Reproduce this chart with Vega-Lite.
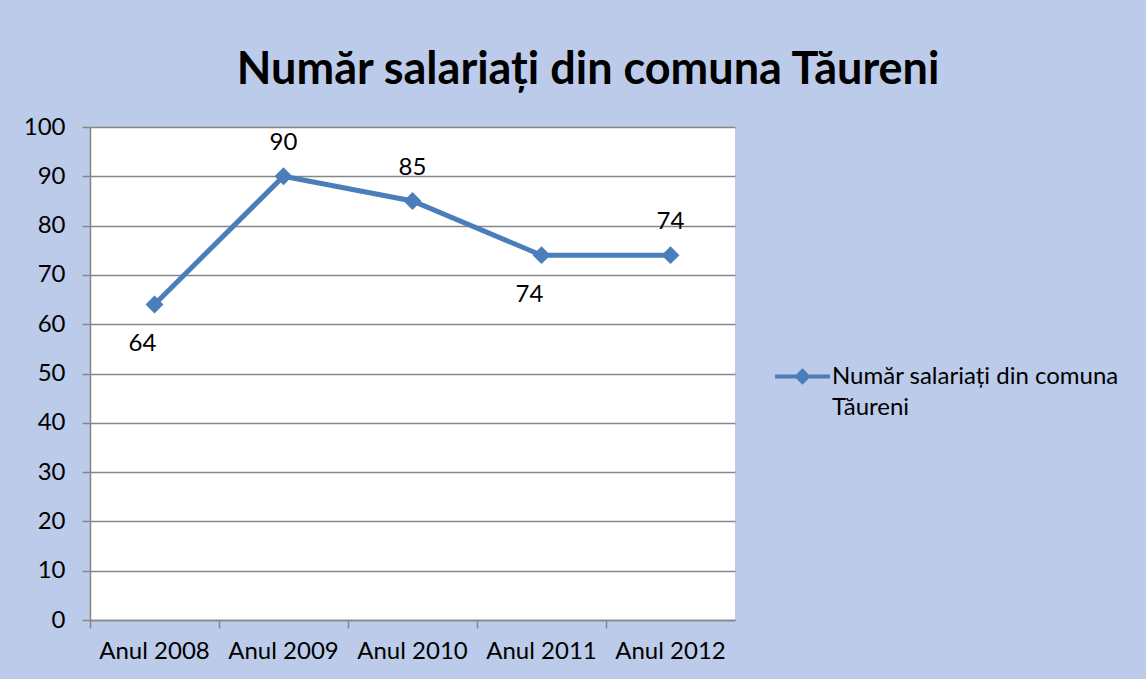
{
  "$schema": "https://vega.github.io/schema/vega-lite/v6.json",
  "width": 645,
  "height": 493,
  "autosize": "none",
  "padding": {"left": 90, "top": 127, "right": 411, "bottom": 59},
  "background": "#bccbe9",
  "title": {
    "text": "Număr salariați din comuna Tăureni",
    "font": "Lato",
    "fontSize": 45,
    "fontWeight": "bold",
    "color": "#000000",
    "anchor": "middle",
    "frame": "bounds",
    "dx": 17,
    "offset": 22
  },
  "config": {
    "view": {"fill": "#ffffff", "stroke": null},
    "font": "Lato",
    "style": {"guide-label": {"lineHeight": 31}}
  },
  "data": {
    "values": [
      {"an": "Anul 2008", "valoare": 64, "serie": "Număr salariați din comuna Tăureni"},
      {"an": "Anul 2009", "valoare": 90, "serie": "Număr salariați din comuna Tăureni"},
      {"an": "Anul 2010", "valoare": 85, "serie": "Număr salariați din comuna Tăureni"},
      {"an": "Anul 2011", "valoare": 74, "serie": "Număr salariați din comuna Tăureni"},
      {"an": "Anul 2012", "valoare": 74, "serie": "Număr salariați din comuna Tăureni"}
    ]
  },
  "encoding": {
    "x": {
      "field": "an",
      "type": "nominal",
      "sort": null,
      "scale": {"type": "band", "paddingInner": 0, "paddingOuter": 0},
      "axis": {
        "title": null,
        "labelAngle": 0,
        "labelFont": "Lato",
        "labelFontSize": 24,
        "labelColor": "#000000",
        "labelPadding": 11,
        "bandPosition": 0,
        "tickSize": 8,
        "tickColor": "#868686",
        "tickWidth": 1.5,
        "domainColor": "#868686",
        "domainWidth": 1.5,
        "grid": false
      }
    },
    "y": {
      "field": "valoare",
      "type": "quantitative",
      "scale": {"domain": [0, 100], "nice": false},
      "axis": {
        "title": null,
        "values": [0, 10, 20, 30, 40, 50, 60, 70, 80, 90, 100],
        "labelFont": "Lato",
        "labelFontSize": 24,
        "labelColor": "#000000",
        "labelPadding": 17,
        "tickSize": 8,
        "tickColor": "#868686",
        "tickWidth": 1.5,
        "domainColor": "#868686",
        "domainWidth": 1.5,
        "grid": true,
        "gridColor": "#868686",
        "gridWidth": 1.5
      }
    }
  },
  "layer": [
    {
      "mark": {"type": "line", "strokeWidth": 5},
      "encoding": {
        "color": {
          "field": "serie",
          "type": "nominal",
          "scale": {"range": ["#4a7ebb"]},
          "legend": {
            "title": null,
            "orient": "none",
            "legendX": 685,
            "legendY": 222,
            "symbolType": "M-1,-0.07L1,-0.07L1,0.07L-1,0.07ZM0,-0.3L0.3,0L0,0.3L-0.3,0Z",
            "symbolSize": 3025,
            "symbolFillColor": "#4a7ebb",
            "symbolStrokeColor": "#4a7ebb",
            "symbolStrokeWidth": 0,
            "symbolOpacity": 1,
            "labelFont": "Lato",
            "labelFontSize": 24,
            "labelColor": "#000000",
            "labelOffset": 2,
            "labelLimit": 400,
            "labelExpr": "['Număr salariați din comuna', 'Tăureni']"
          }
        }
      }
    },
    {
      "mark": {"type": "point", "shape": "diamond", "filled": true, "size": 320, "opacity": 1},
      "encoding": {
        "color": {"field": "serie", "type": "nominal"}
      }
    },
    {
      "transform": [{"filter": {"field": "an", "oneOf": ["Anul 2008", "Anul 2011"]}}],
      "mark": {"type": "text", "dy": 40, "dx": -12, "fontSize": 24, "font": "Lato", "color": "#000000"},
      "encoding": {"text": {"field": "valoare", "type": "quantitative"}}
    },
    {
      "transform": [{"filter": {"field": "an", "oneOf": ["Anul 2009", "Anul 2010", "Anul 2012"]}}],
      "mark": {"type": "text", "dy": -33, "fontSize": 24, "font": "Lato", "color": "#000000"},
      "encoding": {"text": {"field": "valoare", "type": "quantitative"}}
    }
  ]
}
